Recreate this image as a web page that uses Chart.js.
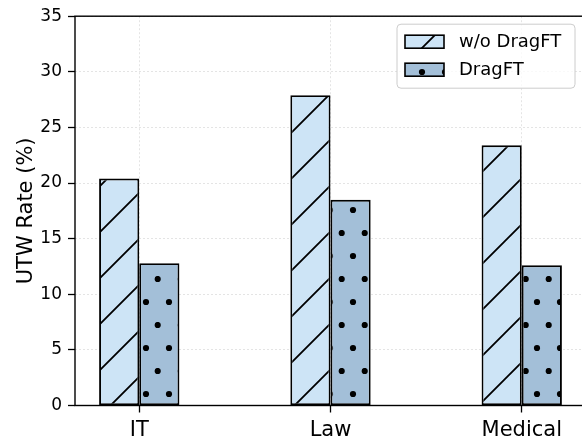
<!DOCTYPE html>
<html><head><meta charset="utf-8">
<script src="https://cdn.jsdelivr.net/npm/chart.js@4"></script>
<style>
html,body{margin:0;padding:0;overflow:hidden;background:#fff;width:582px;height:441px}
#wrap{width:586px;height:441px}
canvas{display:block}
</style></head>
<body><div id="wrap"><canvas id="c" width="586" height="441"></canvas></div>
<script>
const categories = ['IT', 'Law', 'Medical'];
const seriesNames = ['w/o DragFT', 'DragFT'];
const woDragFT = [20.4, 27.9, 23.4];
const dragFT = [12.8, 18.5, 12.6];
const yTicks = [0, 5, 10, 15, 20, 25, 30, 35];
const yTitle = 'UTW Rate (%)';

const FONT = "'DejaVu Sans', sans-serif";
Chart.defaults.font.family = FONT;
Chart.defaults.color = '#000';

const canvas = document.getElementById('c');
const mainCtx = canvas.getContext('2d');

function hatchPattern(bg) {
  const t = document.createElement('canvas'); t.width = 46; t.height = 46;
  const g = t.getContext('2d');
  g.fillStyle = bg; g.fillRect(0, 0, 46, 46);
  g.strokeStyle = '#000'; g.lineWidth = 1.8;
  g.beginPath();
  g.moveTo(-3, 13); g.lineTo(13, -3);
  g.moveTo(7, 49); g.lineTo(49, 7);
  g.stroke();
  return mainCtx.createPattern(t, 'repeat');
}
function dotPattern(bg) {
  const t = document.createElement('canvas'); t.width = 23; t.height = 46;
  const g = t.getContext('2d');
  g.fillStyle = bg; g.fillRect(0, 0, 23, 46);
  g.fillStyle = '#000';
  g.beginPath(); g.arc(8, 26, 3.1, 0, Math.PI * 2); g.fill();
  g.beginPath(); g.arc(19.7, 3, 3.1, 0, Math.PI * 2); g.fill();
  return mainCtx.createPattern(t, 'repeat');
}

const fills = [hatchPattern('#cde4f6'), dotPattern('#a3bfd8')];

const spines = {
  id: 'spines',
  afterDatasetsDraw(chart) {
    const { ctx, chartArea: a } = chart;
    ctx.save();
    ctx.strokeStyle = '#000'; ctx.lineWidth = 1.4;
    ctx.strokeRect(a.left, a.top, a.right - a.left, a.bottom - a.top);
    ctx.restore();
  }
};

const legendBox = {
  id: 'legendBox',
  afterDraw(chart) {
    const { ctx, chartArea: a } = chart;
    const ds = chart.data.datasets;
    const bx = a.right - 189, by = a.top + 8, bw = 178, bh = 64;
    ctx.save();
    ctx.beginPath();
    if (ctx.roundRect) ctx.roundRect(bx, by, bw, bh, 4); else ctx.rect(bx, by, bw, bh);
    ctx.fillStyle = 'rgba(255,255,255,0.8)';
    ctx.fill();
    ctx.strokeStyle = '#cccccc'; ctx.lineWidth = 1;
    ctx.stroke();
    ds.forEach((d, i) => {
      const cy = by + 17.5 + i * 28;
      ctx.fillStyle = d.backgroundColor;
      ctx.fillRect(bx + 8, cy - 6.5, 39, 13);
      ctx.strokeStyle = '#000'; ctx.lineWidth = 1.6;
      ctx.strokeRect(bx + 8, cy - 6.5, 39, 13);
      ctx.fillStyle = '#000';
      ctx.font = '18px ' + FONT;
      ctx.textBaseline = 'middle';
      ctx.textAlign = 'left';
      ctx.fillText(d.label, bx + 62, cy + 1);
    });
    ctx.restore();
  }
};

const gridCommon = { color: '#dedede', lineWidth: 0.8, tickColor: '#000', tickLength: 7, tickWidth: 1.3 };

new Chart(canvas, {
  type: 'bar',
  data: {
    datasets: [woDragFT, dragFT].map((vals, k) => ({
      label: seriesNames[k],
      data: vals.map((v, i) => ({ x: i, y: v })),
      backgroundColor: fills[k],
      borderColor: '#000',
      borderWidth: 1.9,
      borderSkipped: false,
      categoryPercentage: 0.42,
      barPercentage: 1.0
    }))
  },
  options: {
    responsive: false,
    animation: false,
    devicePixelRatio: 1,
    layout: { padding: { top: 13.5, left: 0, right: 0, bottom: 0 } },
    plugins: { legend: { display: false }, tooltip: { enabled: false } },
    scales: {
      x: {
        type: 'linear',
        min: -0.336, max: 2.336,
        offset: false,
        afterBuildTicks: s => { s.ticks = categories.map((c, i) => ({ value: i })); },
        ticks: { callback: v => categories[v], font: { size: 21 }, color: '#000', padding: 5, autoSkip: false, maxRotation: 0 },
        grid: Object.assign({ offset: false }, gridCommon),
        border: { display: false, dash: [2, 2] },
        afterFit: s => { s.height = 35.5; }
      },
      y: {
        min: 0, max: 35,
        afterBuildTicks: s => { s.ticks = yTicks.map(v => ({ value: v })); },
        ticks: { font: { size: 17 }, color: '#000', padding: 6 },
        grid: gridCommon,
        border: { display: false, dash: [2, 2] },
        title: { display: true, text: yTitle, font: { size: 21 }, color: '#000', padding: { top: 14, bottom: 0 } },
        afterFit: s => { s.width = 75; }
      }
    }
  },
  plugins: [spines, legendBox]
});
</script>
</body></html>
